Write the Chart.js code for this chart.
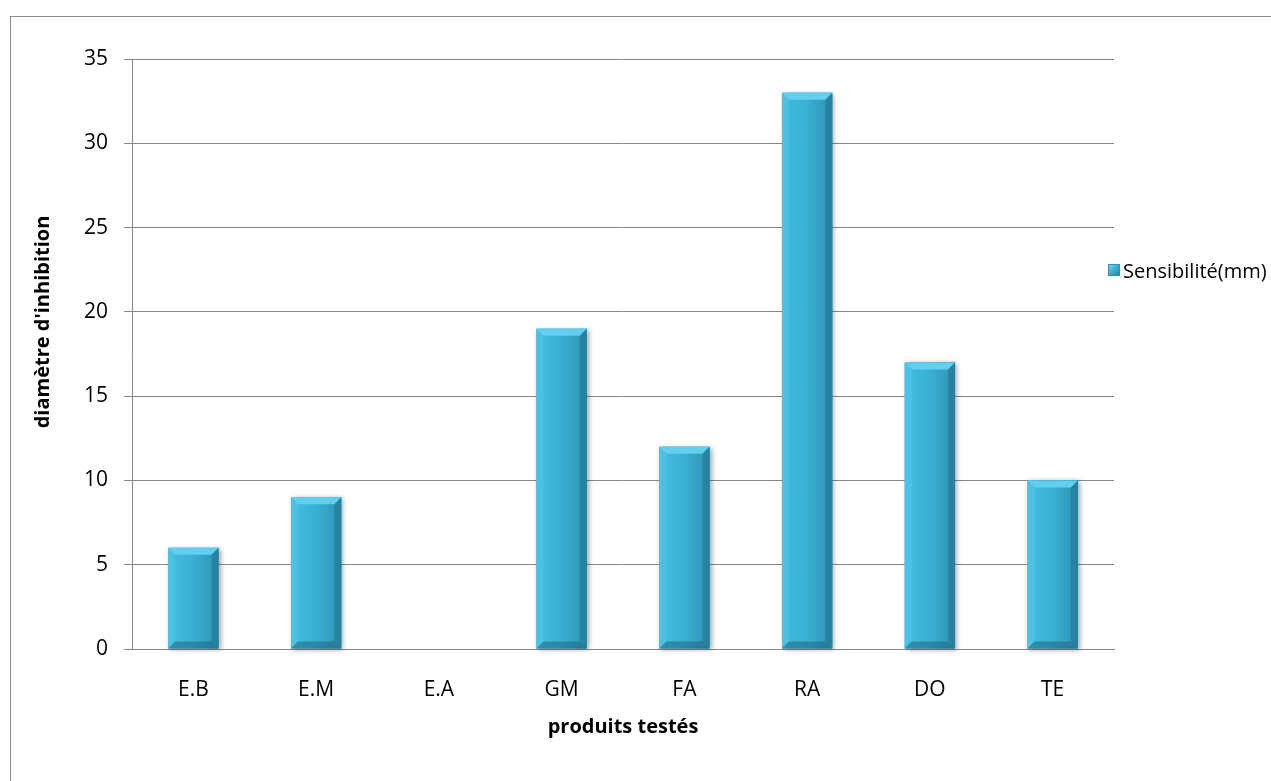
<!DOCTYPE html>
<html>
<head>
<meta charset="utf-8">
<script src="https://cdn.jsdelivr.net/npm/chart.js@4"></script>
<style>
    html, body { margin: 0; padding: 0; background: #fff; overflow: hidden; }
    #wrap { position: relative; width: 1271px; height: 781px; }
    #frame {
        position: absolute; left: 10px; top: 16px; width: 1300px; height: 800px;
        border: 1.5px solid #8c8c8c; box-sizing: border-box;
    }
    #legend {
        position: absolute; left: 1108px; top: 256px; height: 28px;
        font-family: "Open Sans", sans-serif; font-size: 20px; color: #000;
        display: flex; align-items: center; white-space: nowrap;
    }
    #legend .box {
        width: 10px; height: 10px; margin-right: 3px;
        background: linear-gradient(135deg, #6fd6f0 0%, #3aafd2 50%, #2a7f9b 100%);
        border: 1px solid #2e8fae;
    }
    canvas { position: absolute; left: 0; top: 0; }
</style>
</head>
<body>
<div id="wrap">
    <div id="frame"></div>
    <canvas id="bar-chart" width="1271" height="781"></canvas>
    <div id="legend"><span class="box"></span><span id="legend-text"></span></div>
</div>
<script>
const LABELS = ["E.B", "E.M", "E.A", "GM", "FA", "RA", "DO", "TE"];
const VALUES = [6, 9, 0, 19, 12, 33, 17, 10];
const SERIES = "Sensibilité(mm)";
const X_TITLE = "produits testés";
const Y_TITLE = "diamètre d'inhibition";

const FONT = "'Open Sans', sans-serif";
const GRID = "#868686";

// 立体的なバー(Excel風ベベル) ==========================================
const bevelPlugin = {
    id: 'bevel',
    afterDatasetsDraw(chart) {
        const ctx = chart.ctx;
        const meta = chart.getDatasetMeta(0);
        meta.data.forEach(function(bar) {
            const p = bar.getProps(['x', 'y', 'base', 'width'], true);
            const l = p.x - p.width / 2;
            const r = p.x + p.width / 2;
            const t = Math.min(p.y, p.base);
            const b = Math.max(p.y, p.base);
            if (b - t < 1) return;
            const s = Math.min(7, (b - t) / 2);

            ctx.save();
            // 影
            ctx.shadowColor = 'rgba(0,0,0,0.35)';
            ctx.shadowBlur = 5;
            ctx.shadowOffsetX = 2;
            ctx.shadowOffsetY = 1;
            const g = ctx.createLinearGradient(l, 0, r, 0);
            g.addColorStop(0, '#45bde0');
            g.addColorStop(0.45, '#3ab2d6');
            g.addColorStop(1, '#2f93b3');
            ctx.fillStyle = g;
            ctx.fillRect(l, t, r - l, b - t);
            ctx.restore();

            ctx.save();
            function poly(pts, color) {
                ctx.beginPath();
                ctx.moveTo(pts[0][0], pts[0][1]);
                for (let i = 1; i < pts.length; i++) ctx.lineTo(pts[i][0], pts[i][1]);
                ctx.closePath();
                ctx.fillStyle = color;
                ctx.fill();
            }
            poly([[l, t], [r, t], [r - s, t + s], [l + s, t + s]], '#62cfee');
            poly([[l, t], [l + s, t + s], [l + s, b - s], [l, b]], 'rgba(80,200,232,0.55)');
            poly([[r, t], [r, b], [r - s, b - s], [r - s, t + s]], 'rgba(30,105,130,0.45)');
            poly([[l, b], [r, b], [r - s, b - s], [l + s, b - s]], 'rgba(25,95,120,0.5)');
            ctx.restore();
        });
    }
};

// 縦軸タイトル(元図ではプロット中央より少し上) ==========================
const yTitlePlugin = {
    id: 'yTitle',
    afterDraw(chart) {
        const ctx = chart.ctx;
        ctx.save();
        ctx.translate(43, 322);
        ctx.rotate(-Math.PI / 2);
        ctx.font = "bold 20px " + FONT;
        ctx.fillStyle = '#000';
        ctx.textAlign = 'center';
        ctx.textBaseline = 'middle';
        ctx.fillText(Y_TITLE, 0, 0);
        ctx.restore();
    }
};

const data = {
    labels: LABELS,
    datasets: [
        {
            label: SERIES,
            backgroundColor: '#3ab2d6',
            data: VALUES,
            categoryPercentage: 1.0,
            barPercentage: 0.41,
        }
    ],
};

const config = {
    type: 'bar',
    data: data,
    options: {
        responsive: false,
        animation: false,
        layout: {
            padding: { left: 27, top: 59, right: 157, bottom: 38 },
        },
        plugins: {
            legend: { display: false },
            tooltip: { enabled: false },
        },
        scales: {
            x: {
                afterFit: function(scale) { scale.height = 94; },
                grid: { display: false, drawTicks: false },
                border: { color: GRID, width: 1 },
                ticks: {
                    padding: 28,
                    color: '#000',
                    font: { family: FONT, size: 21 },
                },
                title: {
                    display: true,
                    text: X_TITLE,
                    color: '#000',
                    font: { family: FONT, size: 20, weight: 'bold' },
                    padding: { top: 4, bottom: 4 },
                },
            },
            y: {
                min: 0,
                max: 35,
                afterFit: function(scale) { scale.width = 105; },
                grid: { color: GRID, tickLength: 8, lineWidth: 1 },
                border: { color: GRID, width: 1 },
                ticks: {
                    stepSize: 5,
                    padding: 16,
                    color: '#000',
                    font: { family: FONT, size: 21 },
                },
                title: { display: false },
            },
        },
    },
    plugins: [bevelPlugin, yTitlePlugin],
};

document.getElementById('legend-text').textContent = SERIES;

// 描画処理
const myChart = new Chart(document.getElementById('bar-chart'), config);
</script>
</body>
</html>
